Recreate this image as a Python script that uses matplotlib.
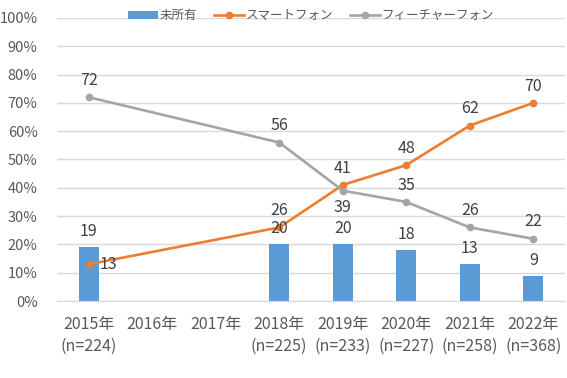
import numpy as np
import matplotlib.pyplot as plt

plt.rcParams['font.family'] = ['Noto Sans CJK JP', 'DejaVu Sans']

years = ['2015年', '2016年', '2017年', '2018年', '2019年', '2020年', '2021年', '2022年']
counts = ['(n=224)', '', '', '(n=225)', '(n=233)', '(n=227)', '(n=258)', '(n=368)']
no_phone = [19, np.nan, np.nan, 20, 20, 18, 13, 9]
smartphone = [13, np.nan, np.nan, 26, 41, 48, 62, 70]
feature_phone = [72, np.nan, np.nan, 56, 39, 35, 26, 22]

c_bar = '#5B9BD5'
c_smart = '#ED7D31'
c_feat = '#A5A5A5'
lab_col = '#404040'

fig = plt.figure(figsize=(5.67, 3.78), dpi=100)
ax = fig.add_axes([0.1005, 0.2037, 0.896, 0.7487])

x = np.arange(len(years))
nb = np.array(no_phone, dtype=float)
sp = np.array(smartphone, dtype=float)
fp = np.array(feature_phone, dtype=float)
ok = ~np.isnan(sp)

ax.bar(x, nb, width=0.32, color=c_bar, label='未所有', zorder=2)
ax.plot(x[ok], sp[ok], color=c_smart, lw=1.9, marker='o', ms=4.5, label='スマートフォン', zorder=3)
ax.plot(x[ok], fp[ok], color=c_feat, lw=1.9, marker='o', ms=4.5, label='フィーチャーフォン', zorder=3)

# data labels
lab_kw = dict(fontsize=11.5, color=lab_col, ha='center', zorder=4, textcoords='offset points')
for i in x[ok]:
    ax.annotate(f'{nb[i]:.0f}', (i, nb[i]), xytext=(0, 5), va='bottom', **lab_kw)
for i in x[ok]:
    if i == 0:
        ax.annotate(f'{sp[i]:.0f}', (i, sp[i]), xytext=(14, 0), va='center', **lab_kw)
    else:
        ax.annotate(f'{sp[i]:.0f}', (i, sp[i]), xytext=(0, 6), va='bottom', **lab_kw)
for i in x[ok]:
    if i == 4:
        ax.annotate(f'{fp[i]:.0f}', (i, fp[i]), xytext=(0, -6), va='top', **lab_kw)
    else:
        ax.annotate(f'{fp[i]:.0f}', (i, fp[i]), xytext=(0, 6), va='bottom', **lab_kw)

ax.set_xlim(-0.5, len(years) - 0.5)
ax.set_ylim(0, 100)
ax.set_yticks(range(0, 101, 10))
ax.set_yticklabels([f'{v}%' for v in range(0, 101, 10)], fontsize=10.5, color='#595959')
ax.set_xticks(x)
ax.set_xticklabels([y + ('\n' + c if c else '') for y, c in zip(years, counts)],
                   fontsize=11.5, color='#595959', va='top', linespacing=1.35)
ax.tick_params(length=0, axis='y', pad=14)
ax.tick_params(length=0, axis='x', pad=11)
ax.grid(axis='y', color='#D9D9D9', lw=1, zorder=0)
ax.set_axisbelow(True)
for s in ['top', 'right', 'left']:
    ax.spines[s].set_visible(False)
ax.spines['bottom'].set_color('#D9D9D9')

h, l = ax.get_legend_handles_labels()
order = [l.index('未所有'), l.index('スマートフォン'), l.index('フィーチャーフォン')]
ax.legend([h[k] for k in order], [l[k] for k in order],
          loc='center', bbox_to_anchor=(0.5, 1.008), ncol=3, frameon=False, fontsize=9,
          handlelength=2.4, handleheight=0.6, columnspacing=1.4, handletextpad=0.1, borderpad=0,
          labelcolor='#595959')

fig.savefig('out.png', dpi=100)
